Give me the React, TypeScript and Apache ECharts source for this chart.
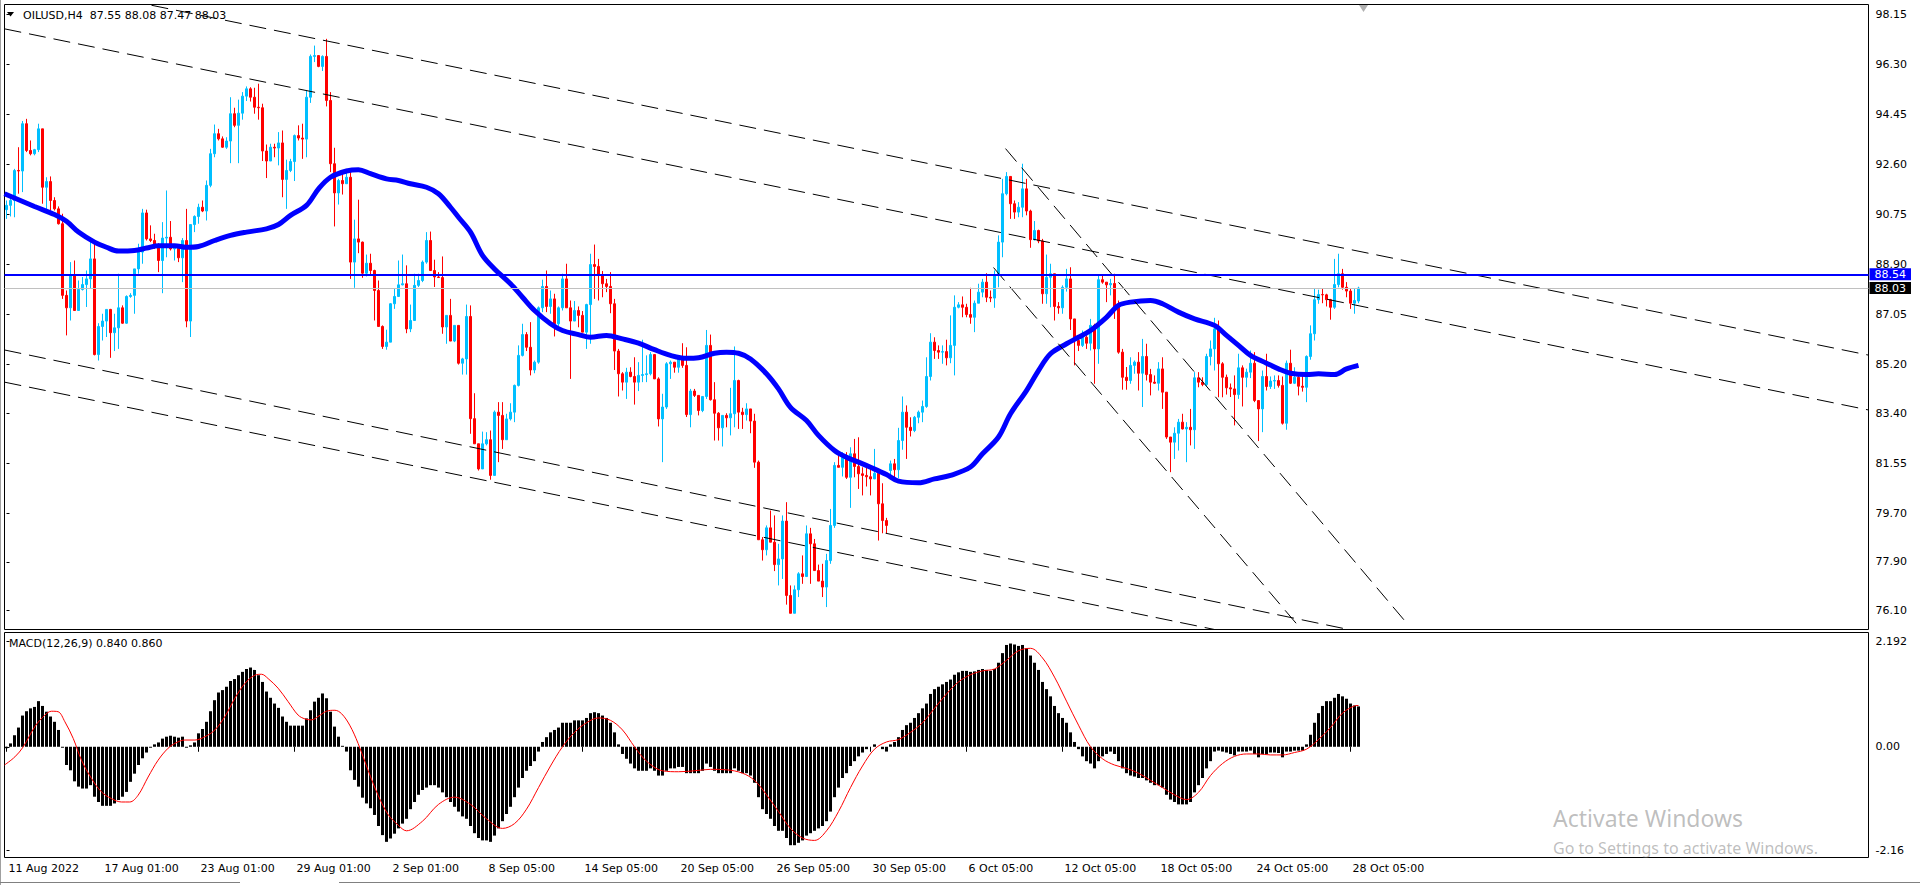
import React, { useEffect, useRef } from "react";
import * as echarts from "echarts";

const SLOTS = 466;
const LABEL_STEP = 24;
const FONT = "DejaVu Sans";

const timeLabels = ["11 Aug 2022", "17 Aug 01:00", "23 Aug 01:00", "29 Aug 01:00", "2 Sep 01:00", "8 Sep 05:00", "14 Sep 05:00", "20 Sep 05:00", "26 Sep 05:00", "30 Sep 05:00", "6 Oct 05:00", "12 Oct 05:00", "18 Oct 05:00", "24 Oct 05:00", "28 Oct 05:00"];

const closes = [
  91.09,91.27,92.38,92.36,94.11,93.12,93.00,93.15,93.92,91.76,
  91.97,91.27,90.96,90.41,87.76,87.30,88.53,87.20,87.98,88.16,
  88.37,89.11,85.57,86.61,86.81,87.24,86.38,86.56,87.30,86.73,
  87.72,87.76,88.74,89.36,90.81,89.85,89.79,89.54,89.05,89.88,
  89.91,89.48,89.50,89.15,89.79,86.81,90.38,90.68,91.02,90.88,
  91.83,93.00,93.74,93.55,93.24,93.47,94.48,94.05,94.50,95.13,
  95.40,95.09,94.72,94.70,93.10,92.73,93.24,93.21,93.40,92.05,
  92.38,92.71,93.67,93.58,93.54,95.09,96.60,96.63,96.23,96.60,
  94.97,92.63,91.55,92.01,91.89,92.13,88.99,89.85,89.73,88.58,
  88.95,88.68,87.94,86.61,85.87,86.03,87.45,87.72,88.15,88.19,
  86.52,86.83,88.13,88.31,88.99,89.79,88.68,88.44,88.42,86.59,
  87.02,86.07,86.65,85.25,85.41,86.98,83.20,82.27,81.34,82.27,
  82.42,81.10,83.44,83.32,82.42,83.19,83.44,84.43,85.54,86.31,
  85.84,85.00,85.29,87.30,88.09,87.35,87.63,86.71,87.30,88.37,
  87.30,86.81,87.20,87.02,86.40,87.42,88.90,88.83,88.50,88.19,
  88.09,87.45,85.70,84.86,84.55,84.92,84.76,84.55,84.80,84.83,
  84.86,85.57,84.67,83.19,83.63,85.23,85.29,85.10,85.41,85.17,
  83.35,84.22,84.06,83.50,84.02,85.91,83.90,83.40,82.86,83.32,
  83.23,83.38,84.61,83.44,83.35,83.56,83.11,81.59,78.72,78.35,
  79.16,78.63,77.80,78.01,79.41,76.66,76.00,76.87,77.46,77.36,
  78.94,78.57,77.58,77.19,76.97,77.95,79.25,81.47,81.40,81.77,
  81.03,81.90,81.43,81.16,81.10,81.05,80.97,81.18,80.05,79.43,
  79.25,81.53,81.31,82.39,83.44,82.88,82.76,83.25,83.44,83.65,
  84.76,86.03,85.72,85.66,85.68,85.45,85.91,87.32,87.41,87.32,
  87.05,86.95,87.47,87.88,88.25,87.69,87.66,88.50,89.73,91.52,
  92.16,91.15,90.84,91.02,91.70,90.88,89.82,90.16,89.77,87.82,
  88.43,88.56,87.35,87.30,88.06,88.37,86.89,86.09,85.91,86.21,
  85.99,86.65,85.78,88.34,88.25,88.15,88.20,87.32,85.66,84.73,
  84.61,85.17,85.29,84.88,85.50,84.83,84.55,84.51,85.04,84.18,
  82.52,82.33,82.66,83.07,82.82,82.88,82.79,84.71,84.55,84.46,
  85.50,85.78,86.52,85.23,84.73,84.34,84.30,84.09,85.08,84.73,
  84.92,85.25,83.87,83.56,84.76,84.39,84.59,84.61,84.43,83.03,
  85.25,84.51,84.73,84.40,84.36,85.50,86.34,87.60,87.79,87.78,
  87.60,87.32,88.16,88.56,88.06,87.92,87.47,87.57,88.03
];

const highs = [
  91.27,91.39,92.44,93.24,94.21,94.29,93.49,93.18,94.11,93.92,
  92.13,92.16,91.39,91.05,90.78,87.94,88.99,89.05,88.31,88.44,
  88.68,89.79,89.67,86.73,87.08,87.24,87.26,87.08,88.56,87.39,
  87.76,87.84,88.74,89.67,90.96,90.93,90.35,90.04,89.69,90.47,
  91.64,90.51,89.52,89.40,89.88,90.96,90.38,90.72,91.15,91.27,
  92.01,93.18,94.08,93.92,93.64,93.61,95.09,94.70,95.00,95.28,
  95.49,95.46,95.44,95.59,94.85,93.34,93.37,93.37,93.80,93.86,
  92.78,92.81,93.71,94.05,94.11,95.34,96.67,97.00,96.57,96.64,
  97.25,95.28,93.22,92.07,92.32,92.44,92.38,90.56,91.30,89.75,
  89.27,89.30,88.71,88.31,86.65,86.49,87.47,88.00,89.05,89.27,
  88.87,87.42,88.56,88.56,89.05,90.10,90.12,89.08,88.62,89.20,
  87.02,87.63,86.65,86.65,85.45,87.42,87.39,84.14,82.27,82.72,
  82.70,82.76,83.50,83.81,83.81,83.38,83.77,84.46,85.91,86.71,
  86.40,86.77,85.35,87.35,88.34,88.68,87.94,87.82,87.35,88.56,
  88.93,87.57,87.55,87.35,87.18,87.45,89.30,89.64,89.11,88.66,
  88.37,88.62,87.63,85.78,84.92,85.08,85.10,85.47,85.29,86.12,
  85.54,85.66,85.57,84.73,84.12,85.29,85.35,85.23,85.47,85.99,
  85.84,84.30,84.30,84.06,84.02,86.48,86.31,84.55,83.44,83.32,
  83.40,84.34,85.87,84.64,83.60,83.77,83.56,83.38,81.65,78.82,
  79.25,79.80,79.62,78.57,79.62,80.11,77.03,77.03,77.52,78.14,
  79.25,79.16,78.75,77.80,77.83,78.20,79.86,81.59,81.84,81.96,
  81.96,82.14,82.45,82.51,81.40,81.47,81.40,82.08,81.18,80.81,
  79.53,81.65,81.71,82.86,84.02,83.69,83.25,83.30,83.50,83.87,
  85.47,86.36,86.21,85.91,85.91,86.12,87.02,87.76,87.51,87.72,
  87.45,88.04,87.57,88.19,88.37,88.58,87.94,88.68,89.98,92.07,
  92.32,92.13,91.27,91.21,92.63,92.07,90.93,90.51,90.19,89.85,
  89.27,88.93,88.56,87.51,88.13,88.74,88.80,86.89,86.21,86.46,
  86.28,86.89,86.71,88.50,88.53,88.21,88.37,88.56,87.57,85.78,
  85.11,85.47,85.35,85.66,86.15,85.97,85.04,84.80,85.29,85.47,
  84.18,82.52,82.88,83.19,83.38,83.07,83.56,84.92,84.92,84.73,
  85.60,86.09,86.93,86.83,85.29,84.83,84.50,84.80,85.60,85.17,
  85.05,85.72,85.66,83.80,84.98,85.60,84.76,84.80,84.80,84.76,
  85.35,85.75,85.10,84.80,84.80,85.54,86.65,88.00,87.97,88.00,
  87.82,87.63,89.11,89.30,88.74,88.25,88.00,88.00,88.08
];

const lows = [
  90.59,90.68,90.65,91.52,91.58,93.06,92.94,92.94,93.06,91.15,
  90.90,90.90,90.90,90.38,87.63,86.28,86.83,87.20,87.51,87.94,
  87.33,88.00,85.54,85.35,86.09,86.22,85.45,85.70,85.78,86.71,
  86.71,87.67,87.08,88.56,88.93,89.79,89.73,89.48,88.62,87.84,
  89.17,89.42,89.05,88.99,88.25,86.58,86.22,90.10,90.41,90.84,
  90.53,91.76,92.87,93.49,93.22,93.18,92.65,93.98,92.65,94.26,
  94.95,94.93,94.48,94.26,92.73,92.10,92.87,92.87,92.57,91.39,
  90.96,92.32,91.99,93.49,92.81,92.87,94.88,96.39,96.20,96.06,
  94.75,92.32,90.31,91.12,91.49,91.95,88.37,88.04,89.32,88.41,
  88.46,88.50,86.83,86.61,85.78,85.75,86.10,87.26,87.70,88.13,
  86.36,86.40,86.96,88.07,88.25,88.93,88.66,88.07,88.41,86.34,
  85.97,86.07,86.03,85.20,84.83,84.83,82.64,82.27,81.28,81.65,
  82.21,80.94,81.10,81.59,82.08,82.42,83.13,83.07,84.39,85.50,
  85.70,84.80,84.88,85.23,87.14,87.14,87.08,86.24,86.58,87.20,
  87.30,84.67,86.81,86.58,86.40,85.78,85.97,87.63,87.57,87.69,
  87.88,87.10,85.00,84.02,84.24,83.93,84.73,83.72,84.22,84.55,
  84.55,84.80,84.67,82.91,81.59,83.56,84.67,84.90,84.90,85.08,
  83.26,82.88,84.00,83.32,83.44,83.93,83.87,82.39,82.39,82.17,
  82.88,82.58,82.88,82.82,82.82,83.13,82.66,81.38,78.72,77.95,
  78.14,78.63,77.56,77.03,77.27,76.32,76.00,76.23,76.60,77.09,
  77.34,77.09,77.58,77.19,76.60,76.23,77.83,79.16,81.40,81.06,
  80.97,79.90,81.03,80.60,80.36,80.69,80.36,80.97,78.69,78.96,
  78.96,80.97,81.00,81.00,82.05,81.71,82.54,82.70,83.03,83.07,
  83.60,84.61,85.41,85.41,85.23,85.17,85.25,84.80,87.28,86.95,
  86.95,86.71,86.40,87.47,87.69,87.51,87.51,87.30,88.06,89.17,
  91.46,90.59,90.59,90.65,90.65,90.72,89.52,89.79,89.69,87.45,
  87.45,87.32,86.83,87.08,87.08,87.90,86.48,85.17,85.70,85.85,
  85.78,85.72,84.49,85.23,88.19,87.51,87.76,86.89,85.60,84.27,
  84.27,84.49,84.86,84.24,83.63,84.61,84.06,84.49,84.24,83.56,
  82.45,81.22,81.71,82.02,82.80,81.59,82.21,82.08,84.36,84.40,
  84.40,85.17,84.98,83.99,83.99,84.09,84.00,82.95,83.93,83.65,
  84.36,84.70,83.81,82.37,82.70,84.24,84.30,84.30,84.35,82.98,
  82.79,84.48,84.48,84.06,84.20,83.81,85.38,86.09,87.45,87.47,
  87.35,86.86,87.26,88.06,87.97,87.69,87.26,87.08,87.47
];

const firstOpen = 90.93;
const gapOpens = [[221, 81.28], [338, 87.55]];

const maPoints = [
  [-0.5,91.52],[7,91.05],[12,90.75],[15,90.50],[18,90.10],[22,89.73],[25,89.54],[28,89.40],[32,89.42],[35,89.51],
  [38,89.60],[42,89.60],[45,89.54],[48,89.57],[52,89.79],[56,89.98],[60,90.10],[65,90.22],[68,90.38],[71,90.72],
  [75,91.09],[78,91.70],[81,92.13],[85,92.36],[88,92.41],[91,92.26],[95,92.07],[98,92.01],[101,91.89],[105,91.76],
  [108,91.52],[111,91.02],[113,90.65],[116,90.10],[119,89.24],[122,88.74],[126,88.19],[129,87.69],[132,87.20],[136,86.71],
  [139,86.46],[143,86.31],[146,86.21],[150,86.28],[154,86.15],[158,85.99],[162,85.75],[166,85.54],[170,85.43],[173,85.45],
  [177,85.62],[180,85.66],[183,85.62],[186,85.41],[190,84.86],[193,84.30],[196,83.62],[200,83.13],[203,82.58],[207,82.02],
  [210,81.77],[213,81.59],[216,81.40],[220,81.13],[223,80.89],[228,80.83],[232,80.97],[236,81.10],[241,81.41],[244,81.90],
  [248,82.52],[251,83.38],[255,84.24],[258,84.98],[261,85.60],[265,85.97],[268,86.21],[271,86.46],[275,86.95],[278,87.39],
  [281,87.51],[286,87.57],[289,87.45],[293,87.14],[297,86.89],[302,86.65],[305,86.28],[308,85.91],[311,85.54],[315,85.25],
  [318,85.04],[321,84.88],[325,84.83],[328,84.86],[332,84.83],[335,85.04],[338,85.17]
];

const macdHist = [
  -0.03,0.07,0.24,0.40,0.65,0.74,0.80,0.83,0.95,0.85,
  0.73,0.63,0.52,0.35,-0.02,-0.38,-0.49,-0.72,-0.83,-0.87,
  -0.87,-0.80,-1.04,-1.15,-1.23,-1.23,-1.23,-1.18,-1.11,-1.04,
  -0.94,-0.73,-0.56,-0.38,-0.24,-0.12,-0.02,0.05,0.09,0.17,
  0.21,0.23,0.21,0.19,0.21,-0.02,0.03,0.09,0.28,0.37,
  0.52,0.74,0.97,1.13,1.18,1.25,1.37,1.41,1.49,1.56,
  1.62,1.65,1.60,1.49,1.35,1.15,1.02,0.90,0.81,0.63,
  0.52,0.44,0.44,0.44,0.44,0.59,0.76,0.94,1.02,1.11,
  1.01,0.73,0.42,0.21,0.02,-0.10,-0.49,-0.69,-0.83,-1.06,
  -1.18,-1.28,-1.42,-1.65,-1.84,-1.98,-1.91,-1.81,-1.70,-1.60,
  -1.50,-1.30,-1.15,-1.00,-0.90,-0.85,-0.80,-0.80,-0.85,-0.95,
  -1.05,-1.15,-1.25,-1.35,-1.45,-1.50,-1.65,-1.80,-1.90,-1.95,
  -1.95,-1.98,-1.85,-1.70,-1.55,-1.40,-1.25,-1.05,-0.85,-0.65,
  -0.50,-0.40,-0.30,-0.10,0.10,0.20,0.30,0.35,0.40,0.50,
  0.50,0.50,0.55,0.55,0.55,0.60,0.70,0.72,0.70,0.65,
  0.60,0.50,0.30,0.05,-0.15,-0.25,-0.35,-0.45,-0.50,-0.50,
  -0.50,-0.45,-0.50,-0.60,-0.60,-0.50,-0.45,-0.45,-0.42,-0.42,
  -0.55,-0.55,-0.55,-0.55,-0.50,-0.35,-0.42,-0.50,-0.55,-0.55,
  -0.55,-0.55,-0.45,-0.50,-0.55,-0.55,-0.60,-0.75,-1.05,-1.30,
  -1.40,-1.50,-1.65,-1.75,-1.75,-1.90,-2.05,-2.05,-2.00,-1.95,
  -1.85,-1.80,-1.75,-1.70,-1.65,-1.55,-1.35,-1.05,-0.85,-0.65,
  -0.55,-0.40,-0.30,-0.20,-0.12,-0.05,0.00,0.05,0.00,-0.05,
  -0.10,0.05,0.10,0.20,0.35,0.45,0.50,0.60,0.70,0.80,
  0.90,1.10,1.20,1.25,1.30,1.35,1.40,1.50,1.55,1.58,
  1.58,1.56,1.57,1.60,1.62,1.60,1.58,1.62,1.75,1.95,
  2.12,2.15,2.13,2.10,2.12,2.05,1.90,1.75,1.60,1.35,
  1.20,1.05,0.85,0.70,0.60,0.50,0.30,0.10,-0.05,-0.20,
  -0.30,-0.35,-0.45,-0.30,-0.20,-0.15,-0.10,-0.15,-0.30,-0.45,
  -0.55,-0.60,-0.62,-0.65,-0.65,-0.70,-0.75,-0.80,-0.80,-0.85,
  -1.00,-1.10,-1.15,-1.20,-1.20,-1.20,-1.15,-0.95,-0.80,-0.65,
  -0.45,-0.30,-0.10,-0.08,-0.10,-0.12,-0.15,-0.18,-0.10,-0.10,
  -0.10,-0.08,-0.15,-0.22,-0.15,-0.15,-0.12,-0.12,-0.13,-0.22,
  -0.10,-0.10,-0.08,-0.08,-0.08,0.05,0.25,0.50,0.70,0.85,
  0.95,0.95,1.02,1.10,1.05,1.00,0.90,0.86,0.84
];

const macdSignal = [
  [-0.5,-0.38],[2.1,-0.21],[4.2,0],[7.1,0.42],[9.6,0.66],[11.25,0.74],[12.9,0.73],[14.6,0.52],[16.7,0.17],[18.75,-0.28],
  [21.25,-0.66],[23.75,-0.94],[26.25,-1.08],[28.75,-1.15],[30.8,-1.15],[32.9,-1.01],[35.4,-0.63],[37.9,-0.28],[40.4,-0.03],[42.1,0.07],
  [44.6,0.14],[47.1,0.14],[49.6,0.21],[52.1,0.35],[54.6,0.63],[57.1,1.01],[59.6,1.32],[62.1,1.49],[63.75,1.51],[65.4,1.42],
  [67.9,1.22],[70.4,0.94],[72.9,0.66],[74.6,0.58],[76.25,0.56],[77.9,0.63],[80,0.74],[82.1,0.76],[83.75,0.69],[85.8,0.45],
  [87.9,0.07],[90.4,-0.49],[92.9,-1.01],[95.4,-1.41],[97.9,-1.63],[100,-1.75],[104,-1.55],[108,-1.2],[112,-1.05],[116,-1.2],
  [120,-1.5],[124,-1.7],[127,-1.6],[130,-1.3],[133,-0.85],[136,-0.4],[139,0.0],[142,0.3],[145,0.5],[148,0.6],
  [151,0.55],[154,0.35],[157,0.0],[160,-0.3],[164,-0.5],[168,-0.52],[172,-0.5],[176,-0.47],[180,-0.48],[184,-0.55],
  [187,-0.7],[190,-1.0],[193,-1.35],[196,-1.7],[199,-1.9],[202,-1.95],[205,-1.75],[208,-1.35],[211,-0.85],[214,-0.4],
  [217,-0.05],[220,0.1],[223,0.15],[226,0.3],[229,0.5],[232,0.8],[235,1.1],[238,1.35],[241,1.5],[244,1.58],
  [247,1.62],[250,1.8],[253,2.0],[256,2.05],[259,1.85],[262,1.45],[265,0.95],[268,0.45],[271,0.0],[274,-0.25],
  [277,-0.38],[280,-0.45],[283,-0.55],[286,-0.7],[289,-0.85],[292,-1.0],[295,-1.1],[298,-0.95],[301,-0.6],[304,-0.35],
  [307,-0.2],[310,-0.15],[313,-0.15],[316,-0.17],[319,-0.17],[322,-0.12],[325,-0.05],[328,0.15],[331,0.4],[334,0.7],
  [337,0.85],[338,0.86]
];

const priceTicks = [98.15, 96.30, 94.45, 92.60, 90.75, 88.90, 87.05, 85.20, 83.40, 81.55, 79.70, 77.90, 76.10];
const priceMin = 75.40;
const priceMax = 98.52;
const macdTicks = [2.192, 0, -2.16];
const macdTickLabels = ["2.192", "0.00", "-2.16"];
const macdMin = -2.306;
const macdMax = 2.3795;

// [startIndex, startPrice, endIndex, endPrice]
const trendLines = [
  [-0.5, 97.62, 465.5, 83.52],
  [-0.5, 99.60, 465.5, 85.55],
  [-0.5, 85.74, 335.5, 75.40],
  [-0.5, 84.55, 302.0, 75.40],
  [249.75, 93.19, 349.75, 75.69],
  [246.75, 88.79, 323.5, 75.44]
];

const levelLine = 88.54;
const bidLine = 88.03;
const header = "OILUSD,H4  87.55 88.08 87.47 88.03";
const macdHeader = "MACD(12,26,9) 0.840 0.860";

function buildOption() {
  const cats = Array.from({ length: SLOTS }, (_, i) => String(i));
  const candleData = closes.map((c, i) => {
    let o = i === 0 ? firstOpen : closes[i - 1];
    const g = gapOpens.find((p) => p[0] === i);
    if (g) o = g[1];
    const h = Math.max(highs[i], o, c);
    const l = Math.min(lows[i], o, c);
    return [o, c, l, h];
  });
  const showLabel = (index: number) => index % LABEL_STEP === 0 && index / LABEL_STEP < timeLabels.length;
  const baseText = { fontFamily: FONT, fontSize: 11, color: "#000" };

  const trendSeries = trendLines.map((t) => ({
    type: "line",
    xAxisIndex: 1,
    yAxisIndex: 0,
    data: [[t[0], t[1]], [t[2], t[3]]],
    symbol: "none",
    silent: true,
    clip: true,
    z: 4,
    lineStyle: { color: "#000", width: 1, type: [17, 8] },
  }));

  return {
    animation: false,
    backgroundColor: "#fff",
    textStyle: { fontFamily: FONT, fontSize: 11 },
    grid: [
      { left: 4.5, top: 4.5, width: 1864, height: 625, show: true, borderColor: "#000", borderWidth: 1, backgroundColor: "#fff" },
      { left: 4.5, top: 632.5, width: 1864, height: 225, show: true, borderColor: "#000", borderWidth: 1, backgroundColor: "#fff" },
    ],
    xAxis: [
      { type: "category", gridIndex: 0, data: cats, boundaryGap: true, show: false },
      { type: "value", gridIndex: 0, min: -0.5, max: SLOTS - 0.5, show: false },
      {
        type: "category", gridIndex: 1, data: cats, boundaryGap: true, position: "bottom",
        axisLine: { show: false },
        axisTick: { show: true, interval: (i: number) => showLabel(i), alignWithLabel: true, length: 5, lineStyle: { color: "#000" } },
        axisLabel: {
          ...baseText, interval: (i: number) => showLabel(i), align: "left", margin: 5, padding: [0, 0, 0, 2],
          formatter: (_v: string, i: number) => (showLabel(i) ? timeLabels[i / LABEL_STEP] : ""),
        },
        splitLine: { show: false },
      },
      { type: "value", gridIndex: 1, min: -0.5, max: SLOTS - 0.5, show: false },
    ],
    yAxis: [
      {
        type: "value", gridIndex: 0, position: "right", min: priceMin, max: priceMax,
        splitLine: { show: false }, axisLine: { show: false },
        axisTick: { show: true, customValues: priceTicks, length: 3, lineStyle: { color: "#000" } },
        axisLabel: { ...baseText, customValues: priceTicks, margin: 7, formatter: (v: number) => v.toFixed(2) },
      },
      {
        type: "value", gridIndex: 1, position: "right", min: macdMin, max: macdMax,
        splitLine: { show: false }, axisLine: { show: false },
        axisTick: { show: true, customValues: macdTicks, length: 3, lineStyle: { color: "#000" } },
        axisLabel: {
          ...baseText, customValues: macdTicks, margin: 7,
          formatter: (v: number) => {
            const k = macdTicks.findIndex((t) => Math.abs(t - v) < 1e-6);
            return k >= 0 ? macdTickLabels[k] : "";
          },
        },
      },
    ],
    series: [
      {
        type: "candlestick",
        xAxisIndex: 0,
        yAxisIndex: 0,
        data: candleData,
        barWidth: 2,
        z: 2,
        itemStyle: { color: "#00bfff", color0: "#ff0000", borderColor: "#00bfff", borderColor0: "#ff0000", borderWidth: 1 },
        markLine: {
          silent: true,
          symbol: ["none", "none"],
          z: 5,
          data: [
            {
              yAxis: bidLine,
              lineStyle: { color: "#c0c0c0", width: 1, type: "solid" },
              label: { show: true, position: "end", distance: 1, formatter: bidLine.toFixed(2), color: "#fff", backgroundColor: "#000", padding: [1, 5, 0, 5], fontFamily: FONT, fontSize: 11 },
            },
            {
              yAxis: levelLine,
              lineStyle: { color: "#0000ff", width: 2, type: "solid" },
              label: { show: true, position: "end", distance: 1, formatter: levelLine.toFixed(2), color: "#fff", backgroundColor: "#0000ff", padding: [1, 5, 0, 5], fontFamily: FONT, fontSize: 11 },
            },
          ],
        },
      },
      {
        type: "line",
        xAxisIndex: 1,
        yAxisIndex: 0,
        data: maPoints,
        smooth: 0.35,
        symbol: "none",
        silent: true,
        z: 3,
        lineStyle: { color: "#0000ff", width: 5 },
      },
      ...trendSeries,
      {
        type: "bar",
        xAxisIndex: 2,
        yAxisIndex: 1,
        data: macdHist,
        barWidth: 3,
        silent: true,
        itemStyle: { color: "#000" },
      },
      {
        type: "line",
        xAxisIndex: 3,
        yAxisIndex: 1,
        data: macdSignal,
        smooth: 0.35,
        symbol: "none",
        silent: true,
        z: 3,
        lineStyle: { color: "#ff0000", width: 1 },
      },
    ],
    graphic: [
      { type: "line", z: 100, shape: { x1: 0.5, y1: 0, x2: 0.5, y2: 885 }, style: { stroke: "#a0a0a0", lineWidth: 1 } },
      { type: "line", z: 100, shape: { x1: 0, y1: 882.5, x2: 240, y2: 882.5 }, style: { stroke: "#808080", lineWidth: 1 } },
      { type: "line", z: 100, shape: { x1: 339, y1: 882.5, x2: 1920, y2: 882.5 }, style: { stroke: "#808080", lineWidth: 1 } },
      { type: "polygon", z: 100, shape: { points: [[7, 12], [14, 12], [10.5, 16.5]] }, style: { fill: "#000" } },
      { type: "text", z: 100, x: 23, y: 15, style: { text: header, fill: "#000", fontFamily: FONT, fontSize: 11, verticalAlign: "middle" } },
      { type: "text", z: 100, x: 9, y: 643, style: { text: macdHeader, fill: "#000", fontFamily: FONT, fontSize: 11, verticalAlign: "middle" } },
      { type: "polygon", z: 100, shape: { points: [[1359, 5], [1368, 5], [1363.5, 12]] }, style: { fill: "#b0b0b0" } },
      { type: "text", z: 100, x: 1553, y: 818, style: { text: "Activate Windows", fill: "rgba(110,110,110,0.45)", fontFamily: "Noto Sans", fontSize: 23, verticalAlign: "middle" } },
      { type: "text", z: 100, x: 1553, y: 848, style: { text: "Go to Settings to activate Windows.", fill: "rgba(110,110,110,0.45)", fontFamily: "Noto Sans", fontSize: 16, verticalAlign: "middle" } },
    ],
  };
}

export default function App() {
  const ref = useRef<HTMLDivElement>(null);
  useEffect(() => {
    if (!ref.current) return;
    const chart = echarts.init(ref.current, null, { renderer: "svg" });
    chart.setOption(buildOption() as any);
    return () => chart.dispose();
  }, []);
  return (
    <div
      ref={ref}
      style={{ position: "fixed", left: 0, top: 0, width: 1920, height: 885, background: "#fff" }}
    />
  );
}
